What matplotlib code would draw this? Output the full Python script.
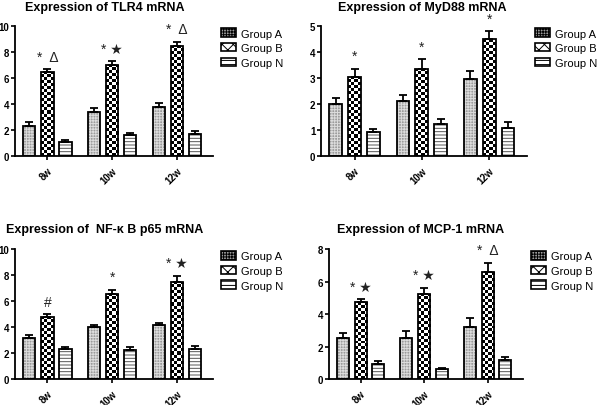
import numpy as np
import matplotlib.pyplot as plt
import matplotlib.patches as mpatches

plt.rcParams['font.family'] = ['Liberation Sans', 'DejaVu Sans']
plt.rcParams['hatch.linewidth'] = 0.7

weeks = ['8w', '10w', '12w']
groups = ['Group A', 'Group B', 'Group N']

# TLR4
tlr4_a = [2.33, 3.41, 3.80]
tlr4_b = [6.49, 7.03, 8.51]
tlr4_n = [1.08, 1.64, 1.72]
tlr4_a_err = [0.26, 0.26, 0.30]
tlr4_b_err = [0.18, 0.26, 0.30]
tlr4_n_err = [0.15, 0.15, 0.18]
tlr4_marks = ['*  \u0394', '* \u2605', '*  \u0394']

# MyD88
myd88_a = [1.99, 2.12, 2.98]
myd88_b = [3.05, 3.37, 4.49]
myd88_n = [0.93, 1.25, 1.07]
myd88_a_err = [0.23, 0.23, 0.30]
myd88_b_err = [0.32, 0.36, 0.31]
myd88_n_err = [0.10, 0.17, 0.24]
myd88_marks = ['*', '*', '*']

# NF-kB p65
nfkb_a = [3.17, 3.99, 4.14]
nfkb_b = [4.78, 6.55, 7.47]
nfkb_n = [2.28, 2.23, 2.33]
nfkb_a_err = [0.18, 0.18, 0.20]
nfkb_b_err = [0.20, 0.33, 0.46]
nfkb_n_err = [0.15, 0.20, 0.23]
nfkb_marks = ['#', '*', '* \u2605']

# MCP-1
mcp1_a = [2.52, 2.54, 3.19]
mcp1_b = [4.74, 5.26, 6.56]
mcp1_n = [0.94, 0.59, 1.17]
mcp1_a_err = [0.33, 0.43, 0.57]
mcp1_b_err = [0.16, 0.35, 0.59]
mcp1_n_err = [0.20, 0.10, 0.16]
mcp1_marks = ['* \u2605', '* \u2605', '*  \u0394']

panels = [
    ('Expression of TLR4 mRNA', [tlr4_a, tlr4_b, tlr4_n], [tlr4_a_err, tlr4_b_err, tlr4_n_err],
     tlr4_marks, 10, 2, [0.025, 0.613, 0.330, 0.320], 0.455),
    ('Expression of MyD88 mRNA', [myd88_a, myd88_b, myd88_n], [myd88_a_err, myd88_b_err, myd88_n_err],
     myd88_marks, 5, 1, [0.535, 0.613, 0.343, 0.320], 0.49),
    ('Expression of  NF-\u03ba B p65 mRNA', [nfkb_a, nfkb_b, nfkb_n], [nfkb_a_err, nfkb_b_err, nfkb_n_err],
     nfkb_marks, 10, 2, [0.025, 0.064, 0.330, 0.320], 0.455),
    ('Expression of MCP-1 mRNA', [mcp1_a, mcp1_b, mcp1_n], [mcp1_a_err, mcp1_b_err, mcp1_n_err],
     mcp1_marks, 8, 2, [0.548, 0.064, 0.324, 0.320], 0.47),
]

fig = plt.figure(figsize=(6, 4.06), dpi=100)
x = np.arange(len(weeks))
width = 0.19
step = 0.28
xlim = (-0.5, 2.56)
cell_px = 3.0


def checker(nx, ny):
    yy, xx = np.indices((ny, nx))
    return ((xx + yy) % 2).astype(float)


for title, vals, errs, marks, ymax, ystep, rect, title_x in panels:
    ax = fig.add_axes(rect)
    ax_w_px = rect[2] * 600
    ax_h_px = rect[3] * 406

    # Group A: fine grey texture
    ax.bar(x - step, vals[0], width, color='#9c9c9c', edgecolor='#dcdcdc', hatch='++++++',
           linewidth=0, zorder=2)
    # Group B: checkerboard texture
    bars_b = ax.bar(x, vals[1], width, color='white', linewidth=0, zorder=2)
    for bar in bars_b:
        w_px = bar.get_width() / (xlim[1] - xlim[0]) * ax_w_px
        h_px = bar.get_height() / ymax * ax_h_px
        nx = max(1, int(round(w_px / cell_px)))
        ny = max(1, int(round(h_px / cell_px)))
        im = ax.imshow(checker(nx, ny), cmap='gray', vmin=0, vmax=1, origin='lower',
                       extent=(bar.get_x(), bar.get_x() + bar.get_width(), 0, bar.get_height()),
                       aspect='auto', interpolation='nearest', zorder=2.5)
        im.set_clip_path(bar)
    # Group N: horizontal lines
    ax.bar(x + step, vals[2], width, color='white', edgecolor='#555555', hatch='-----',
           linewidth=0, zorder=2)

    for i, (v, e) in enumerate(zip(vals, errs)):
        p = x + (i - 1) * step
        ax.bar(p, v, width, fill=False, edgecolor='black', linewidth=1.3, zorder=3)
        ax.errorbar(p, v, yerr=[np.zeros(len(v)), e], fmt='none', ecolor='black',
                    elinewidth=1.3, capsize=3, capthick=1.3, zorder=4)

    for j, m in enumerate(marks):
        top = vals[1][j] + errs[1][j]
        ax.annotate(m, (x[j], top), xytext=(0, 4), textcoords='offset points',
                    ha='center', va='bottom', fontsize=10, color='#222222')

    ax.set_xlim(*xlim)
    ax.set_ylim(0, ymax)
    ax.set_yticks(np.arange(0, ymax + 0.01, ystep))
    ax.set_xticks(x)
    ax.set_xticklabels(weeks, rotation=45, ha='right', rotation_mode='anchor',
                       fontsize=7, fontweight='bold')
    ax.tick_params(axis='y', labelsize=7, width=1.2, length=3, pad=1)
    ax.tick_params(axis='x', width=1.2, length=3)
    for lab in ax.get_yticklabels():
        lab.set_fontweight('bold')
    for s in ['top', 'right']:
        ax.spines[s].set_visible(False)
    for s in ['left', 'bottom']:
        ax.spines[s].set_linewidth(1.3)
    ax.set_title(title, fontsize=9, fontweight='bold', pad=12, x=title_x)

    leg_handles = [
        mpatches.Patch(facecolor='#9c9c9c', edgecolor='black', hatch='++++++', linewidth=1.2),
        mpatches.Patch(facecolor='white', edgecolor='black', hatch='xxx', linewidth=1.2),
        mpatches.Patch(facecolor='white', edgecolor='black', hatch='----', linewidth=1.2),
    ]
    ax.legend(leg_handles, groups, loc='upper left', bbox_to_anchor=(1.03, 1.0),
              frameon=False, fontsize=8, handlelength=1.3, handleheight=0.8,
              labelspacing=0.4, handletextpad=0.5, borderaxespad=0, borderpad=0.2)

fig.savefig('out.png', dpi=100)
